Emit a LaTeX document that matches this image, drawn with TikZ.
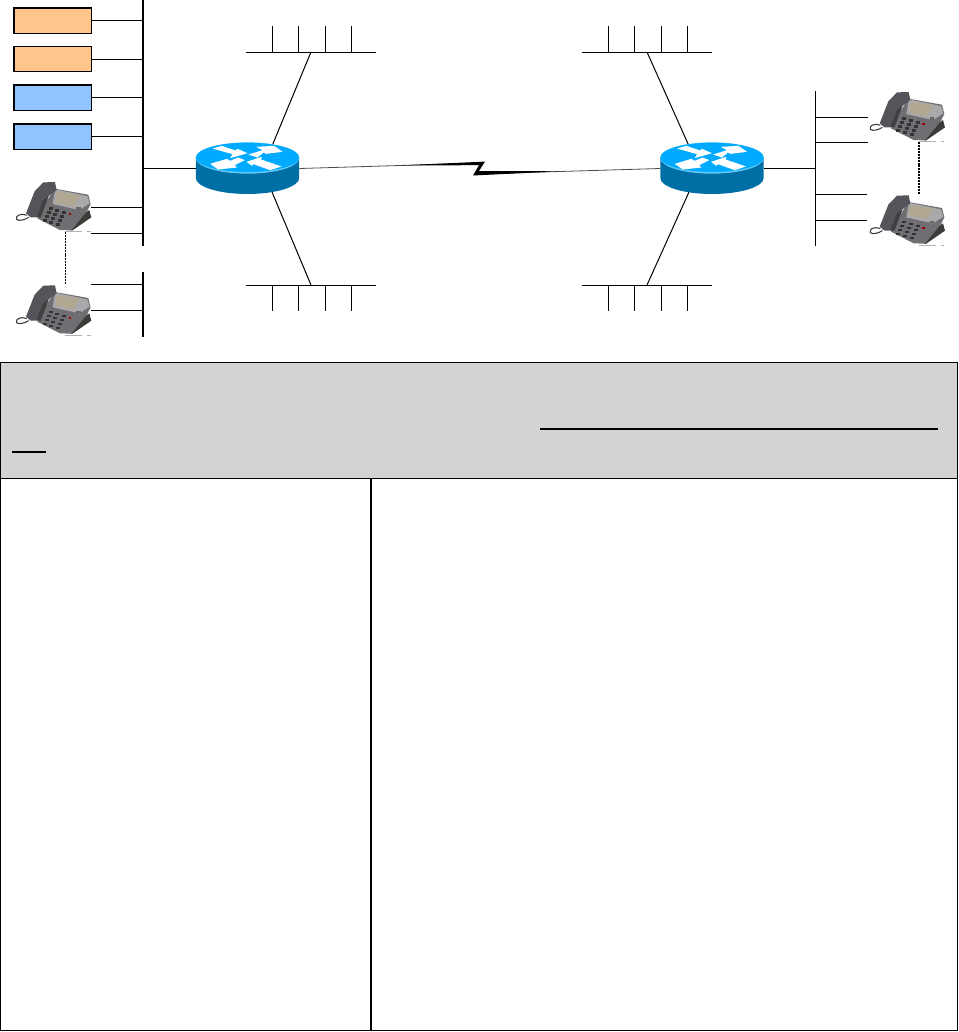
\documentclass[tikz,border=0pt]{standalone}
\usepackage{tikz}
\usetikzlibrary{calc}
\definecolor{srvorange}{RGB}{255,198,140}
\definecolor{srvblue}{RGB}{143,196,255}
\definecolor{rttop}{RGB}{0,170,255}
\definecolor{rtside}{RGB}{0,111,166}
\definecolor{rtrim}{RGB}{102,200,245}
\definecolor{hdrgrey}{RGB}{211,211,211}
\definecolor{phbody}{RGB}{112,110,114}
\definecolor{phdark}{RGB}{84,84,90}
\definecolor{phbase}{RGB}{58,60,56}
\definecolor{phface}{RGB}{170,168,170}
\definecolor{phscreen}{RGB}{176,168,144}
\tikzset{
  srvbox/.style={draw=black,line width=1pt,minimum width=58pt,minimum height=19pt,inner sep=0pt},
  rtbox/.style={minimum width=77.5pt,minimum height=38.5pt,inner sep=0pt},
  phbox/.style={minimum width=56pt,minimum height=37pt,inner sep=0pt},
  bus/.style={line width=1.5pt},
  thinbus/.style={line width=1pt},
  stub/.style={line width=.75pt},
  dotline/.style={line width=1pt,dash pattern=on 1.5pt off .7pt},
  router/.pic={
    \begin{scope}[x=.25pt,y=-.25pt]
      \fill[rtside] (-155,-31.5) -- (-155,28.5) arc[start angle=180,end angle=0,x radius=155,y radius=48] -- (155,-31.5) -- cycle;
      \fill[rtrim] (0,-31.5) ellipse[x radius=155,y radius=47];
      \fill[rttop] (0,-33.5) ellipse[x radius=155,y radius=44];
      \fill[white] (-105,-60) -- (-77,-68) -- (-36,-54) -- (-30,-59) -- (0,-46) -- (-52,-31) -- (-45,-43) -- cycle;
      \fill[white] (3,-42) -- (45,-55) -- (26,-65) -- (80,-68) -- (105,-50) -- (56,-44) -- (48,-48) -- (30,-33) -- cycle;
      \fill[white] (-112,-14) -- (-62,-29) -- (-52,-23) -- (-28,-33) -- (-8,-25) -- (-38,-10) -- (-32,-3) -- (-88,3) -- cycle;
      \fill[white] (-3,-20) -- (43,-35) -- (41,-27) -- (102,-6) -- (68,5) -- (18,-13) -- (13,-8) -- cycle;
    \end{scope}
  },
  deskphone/.pic={
    \begin{scope}[x=.25pt,y=-.25pt,shift={(-160,-620)}]
      % base behind the body
      \fill[phbase] (268,630) -- (274,652) -- (216,692) -- (190,680) -- cycle;
      \fill[phbody] (165,566) -- (265,584) -- (272,612) -- (262,632) -- (214,691) -- (180,690) -- (112,655) -- (128,620) -- cycle;
      \fill[phface] (166,568) -- (262,588) -- (269,610) -- (238,630) -- (158,612) -- cycle;
      % handset
      \fill[phdark] (78,640) -- (104,574) -- (130,547) -- (165,546) -- (170,570) -- (146,588) -- (122,652) -- (92,652) -- cycle;
      \fill[black!75] (110,650) -- (130,600) -- (146,588) -- (122,652) -- cycle;
      \draw[phbase,line width=.8pt] (80,646) .. controls (60,638) and (46,648) .. (50,658) .. controls (56,664) and (74,660) .. (86,652);
      \fill[phscreen] (172,575) -- (238,586) -- (222,618) -- (164,606) -- cycle;
      % keypad
      \foreach \krow in {0,1,2,3}{
        \foreach \kcol in {0,1,2}{
          \fill[black!80] ({146+\krow*-6+\kcol*20},{622+\krow*12+\kcol*6}) rectangle ++(12,7);
        }
      }
      \fill[black!60] (228,622) rectangle ++(14,7);
      \fill[red!60!black] (206,640) rectangle ++(8,6);
      \fill[black!30] (196,694) rectangle ++(50,2);
      \fill[black!30] (262,694) rectangle ++(10,2);
    \end{scope}
  }
}
\begin{document}
\begin{tikzpicture}[x=.75pt,y=-.75pt]
\useasboundingbox (0,0) rectangle (958,1032);
% table
\node[draw=black,line width=1pt,fill=hdrgrey,minimum width=717.4pt,minimum height=87pt,inner sep=0pt,outer sep=0pt,anchor=north west] (hdr) at (.7,362.5) {};
\node[draw=black,line width=1pt,minimum width=277.7pt,minimum height=414pt,inner sep=0pt,outer sep=0pt,anchor=north west] (cellL) at (.7,478.5) {};
\node[draw=black,line width=1pt,minimum width=439.7pt,minimum height=414pt,inner sep=0pt,outer sep=0pt,anchor=north west] (cellR) at (cellL.north east) {};
\coordinate (ul1a) at (540,429);
\coordinate (ul1b) at (938,429);
\coordinate (ul2a) at (12,452);
\coordinate (ul2b) at (46,452);
\draw[line width=.9pt] (ul1a)--(ul1b);
\draw[line width=.9pt] (ul2a)--(ul2b);
% left side
\coordinate (busLa) at (143,0);
\coordinate (busLb) at (143,245.5);
\coordinate (busMa) at (143,272);
\coordinate (busMb) at (143,337);
\draw[bus] (busLa)--(busLb);
\draw[bus] (busMa)--(busMb);
\node[srvbox,fill=srvorange] (srv1) at (52.5,20.5) {};
\node[srvbox,fill=srvorange] (srv2) at (52.5,59) {};
\node[srvbox,fill=srvblue] (srv3) at (52.5,97.5) {};
\node[srvbox,fill=srvblue] (srv4) at (52.5,136.5) {};
\foreach \n in {srv1,srv2,srv3,srv4}
  \draw[stub] (\n.east)--(\n.east -| busLa);
\node[phbox] (ph1) at (53.3,206.7) {};
\node[phbox] (ph2) at (53.3,310) {};
\coordinate (ph1a) at (91,207.5);
\coordinate (ph1b) at (91,233.5);
\coordinate (ph2a) at (91,284.5);
\coordinate (ph2b) at (91,310.5);
\foreach \n in {ph1a,ph1b,ph2a,ph2b}
  \draw[stub] (\n)--(\n -| busLa);
\coordinate (dotLa) at (65.5,232);
\coordinate (dotLb) at (65.5,284);
\draw[dotline,shift={(-.3,0)}] (dotLa)--(dotLb);
\pic at (ph1) {deskphone};
\pic at (ph2) {deskphone};
% routers
\node[rtbox] (rtL) at (247.5,168.5) {};
\node[rtbox] (rtR) at (712,168.5) {};
\draw[stub] (rtL.west)--(rtL.west -| busLa);
% lans
\foreach \nm/\lx/\ly/\vy/\dx/\tx/\ty in {lanA/246/52/26/311/272/146,lanB/246/285/311/311/272/192,lanC/582/52/26/647/689/146,lanD/582/285/311/647/689/192}{
  \coordinate (\nm w) at (\lx,\ly);
  \coordinate (\nm e) at (\lx+130,\ly);
  \coordinate (\nm d) at (\dx,\ly);
  \coordinate (\nm t) at (\tx,\ty);
  \draw[stub] (\nm w)--(\nm e);
  \draw[stub] (\nm d)--(\nm t);
  \foreach \vx in {26,52.5,79,105}
    \draw[stub] ($(\nm w)+(\vx,0)$)--($(\nm w)+(\vx,\vy-\ly)$);
}
% wan link
\coordinate (wanA) at (483,163);
\coordinate (wanB) at (476,174);
\draw[black!70,line width=.6pt] (rtL.east)--(wanA);
\draw[black!70,line width=.6pt] (wanB)--(rtR.west);
\fill[black] (400,165.4) -- (485,161.6) -- (479,171) -- (560,171.3) -- (473,175.5) -- (479,165.2) -- cycle;
\pic at (rtL) {router};
\pic at (rtR) {router};
% right side
\coordinate (busRa) at (815.5,91);
\coordinate (busRb) at (815.5,246);
\draw[thinbus] (busRa)--(busRb);
\draw[stub] (rtR.east)--(rtR.east -| busRa);
\node[phbox] (ph3) at (907,116.7) {};
\node[phbox] (ph4) at (907,220) {};
\coordinate (ph3a) at (868,117.5);
\coordinate (ph3b) at (868,142.5);
\coordinate (ph4a) at (867,194.5);
\coordinate (ph4b) at (867,220.5);
\foreach \n in {ph3a,ph3b,ph4a,ph4b}
  \draw[stub] (\n)--(\n -| busRa);
\coordinate (dotRa) at (919,142);
\coordinate (dotRb) at (919,194);
\draw[dotline] (dotRa)--(dotRb);
\pic at (ph3) {deskphone};
\pic at (ph4) {deskphone};
\end{tikzpicture}
\end{document}
